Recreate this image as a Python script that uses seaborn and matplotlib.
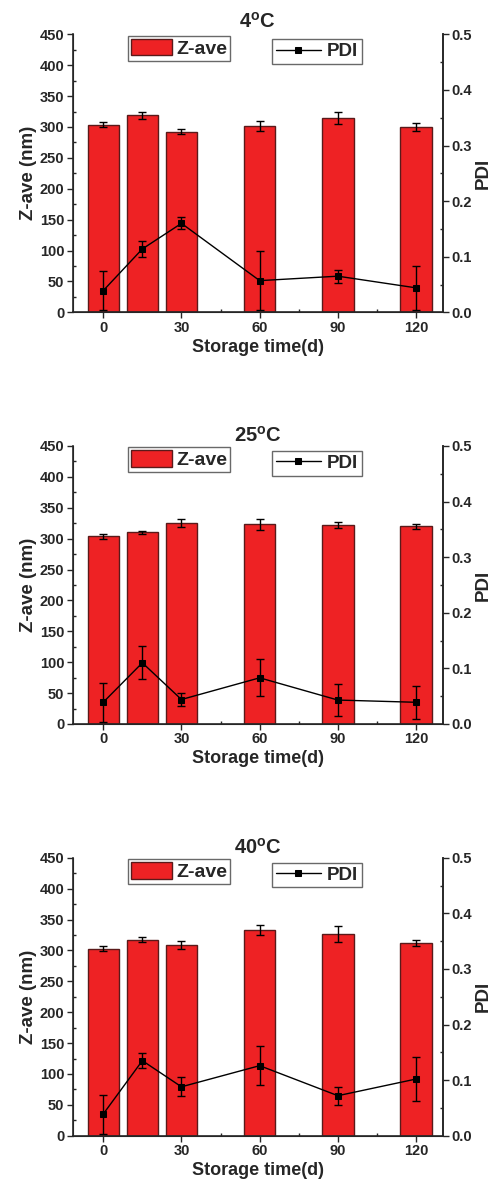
import matplotlib
matplotlib.use('Agg')
import matplotlib.pyplot as plt
from matplotlib.ticker import MultipleLocator, FormatStrFormatter
import pandas as pd
import numpy as np
import seaborn as sns

sns.set_style('ticks')
plt.rcParams['font.family'] = ['Liberation Sans', 'DejaVu Sans']
plt.rcParams['font.weight'] = 'bold'
plt.rcParams['mathtext.fontset'] = 'custom'
plt.rcParams['mathtext.rm'] = 'Liberation Sans:bold'
plt.rcParams['mathtext.bf'] = 'Liberation Sans:bold'

days = [0, 15, 30, 60, 90, 120]
titles = [r'4$^{\mathbf{o}}$C', r'25$^{\mathbf{o}}$C', r'40$^{\mathbf{o}}$C']

zave_4 = [304, 319, 292, 301, 314, 300]
zave_4_err = [3.5, 5.5, 4, 8, 9.5, 6.5]
pdi_4 = [0.039, 0.114, 0.160, 0.057, 0.065, 0.044]
pdi_4_err = [0.035, 0.015, 0.011, 0.053, 0.012, 0.039]

zave_25 = [304, 310, 325, 323, 322, 320]
zave_25_err = [4, 2, 6, 9.5, 5, 4]
pdi_25 = [0.039, 0.110, 0.044, 0.083, 0.043, 0.039]
pdi_25_err = [0.035, 0.030, 0.011, 0.033, 0.028, 0.030]

zave_40 = [303, 317, 309, 333, 327, 312]
zave_40_err = [3.5, 4, 6, 7.5, 13, 5.5]
pdi_40 = [0.039, 0.135, 0.088, 0.126, 0.072, 0.102]
pdi_40_err = [0.035, 0.014, 0.017, 0.035, 0.016, 0.040]

panels = [
    (zave_4, zave_4_err, pdi_4, pdi_4_err),
    (zave_25, zave_25_err, pdi_25, pdi_25_err),
    (zave_40, zave_40_err, pdi_40, pdi_40_err),
]
bottoms = [0.7371, 0.3906, 0.0440]
title_pad = [5, 2, 3]

bar_color = '#ee2224'
bar_edge = '#5a1a1a'

fig = plt.figure(figsize=(4.93, 11.88), dpi=100)

for i, (zave, zerr, pdi, perr) in enumerate(panels):
    df = pd.DataFrame({'day': days, 'zave': zave, 'zerr': zerr, 'pdi': pdi, 'perr': perr})
    ax = fig.add_axes([0.1475, bottoms[i], 0.7505, 0.234])
    sns.barplot(data=df, x='day', y='zave', native_scale=True, width=0.8,
                color=bar_color, edgecolor=bar_edge, linewidth=1.0,
                saturation=1, errorbar=None, ax=ax, label='Z-ave')
    ax.errorbar(df['day'], df['zave'], yerr=df['zerr'], fmt='none',
                ecolor='black', elinewidth=1, capsize=2.7, capthick=1)
    ax.set_xlim(-11.7, 130.2)
    ax.set_ylim(0, 450)
    ax.yaxis.set_major_locator(MultipleLocator(50))
    ax.yaxis.set_minor_locator(MultipleLocator(25))
    ax.set_xticks([0, 30, 60, 90, 120])
    ax.xaxis.set_minor_locator(MultipleLocator(15))
    ax.tick_params(which='major', direction='out', length=4, width=1, labelsize=10.5, pad=2)
    ax.tick_params(which='minor', direction='in', length=2, width=1)
    ax.spines['top'].set_visible(False)
    for s in ['left', 'bottom', 'right']:
        ax.spines[s].set_linewidth(1.2)
    ax.set_xlabel('Storage time(d)', fontsize=13, fontweight='bold', labelpad=3)
    ax.set_ylabel('Z-ave (nm)', fontsize=13.5, fontweight='bold', labelpad=2)
    ax.set_title(titles[i], fontsize=14.5, fontweight='bold', pad=title_pad[i])
    for lab in ax.get_xticklabels() + ax.get_yticklabels():
        lab.set_fontweight('bold')

    ax2 = ax.twinx()
    sns.lineplot(data=df, x='day', y='pdi', color='black', linewidth=1,
                 marker='s', markersize=5, markeredgecolor='black',
                 ax=ax2, label='PDI')
    ax2.errorbar(df['day'], df['pdi'], yerr=df['perr'], fmt='none',
                 ecolor='black', elinewidth=1, capsize=2.7, capthick=1)
    ax2.set_ylim(0, 0.5)
    ax2.yaxis.set_major_locator(MultipleLocator(0.1))
    ax2.yaxis.set_minor_locator(MultipleLocator(0.05))
    ax2.yaxis.set_major_formatter(FormatStrFormatter('%.1f'))
    ax2.tick_params(which='major', direction='out', length=4, width=1, labelsize=10.5, pad=2)
    ax2.tick_params(which='minor', direction='in', length=2, width=1)
    ax2.spines['top'].set_visible(False)
    ax2.spines['right'].set_linewidth(1.2)
    ax2.set_ylabel('PDI', fontsize=13.5, fontweight='bold', labelpad=2)
    for lab in ax2.get_yticklabels():
        lab.set_fontweight('bold')

    leg1 = ax.legend(loc='upper left', bbox_to_anchor=(0.149, 0.995), frameon=True,
                     fancybox=False, edgecolor='#444444', fontsize=14,
                     handlelength=2.1, handleheight=0.95, borderpad=0.15,
                     handletextpad=0.25, borderaxespad=0)
    leg1.get_frame().set_linewidth(1)
    leg2 = ax2.legend(loc='upper left', bbox_to_anchor=(0.539, 0.982), frameon=True,
                      fancybox=False, edgecolor='#444444', fontsize=13.5,
                      handlelength=2.4, borderpad=0.2, handletextpad=0.3,
                      borderaxespad=0)
    leg2.get_frame().set_linewidth(1)

fig.savefig('out.png', dpi=100)
